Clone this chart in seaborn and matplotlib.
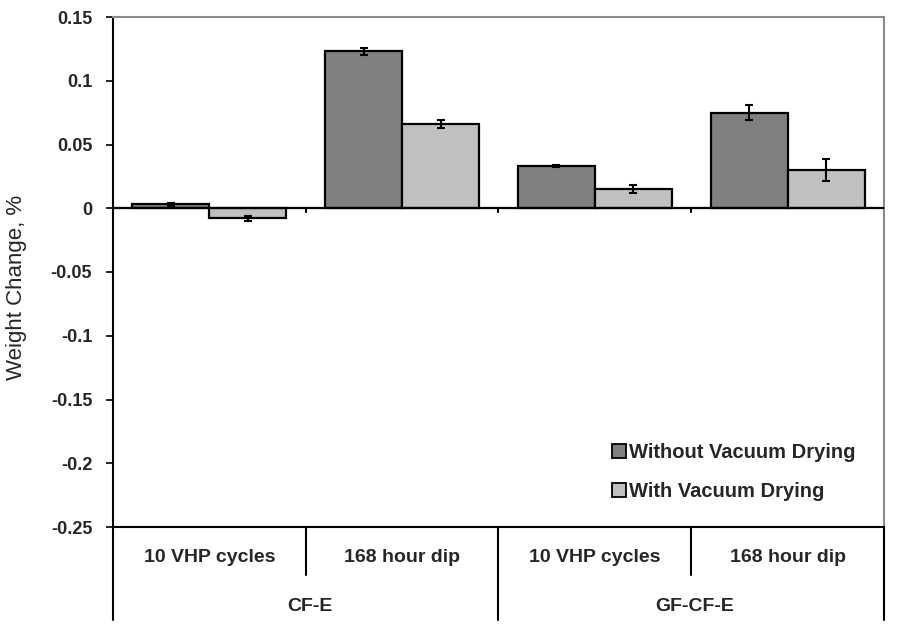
import matplotlib
matplotlib.use("Agg")
import matplotlib.pyplot as plt
import matplotlib.transforms as mtransforms
import seaborn as sns
import pandas as pd

groups = ["CF-E", "CF-E", "GF-CF-E", "GF-CF-E"]
conditions = ["10 VHP cycles", "168 hour dip", "10 VHP cycles", "168 hour dip"]
series_names = ["Without Vacuum Drying", "With Vacuum Drying"]
without_vals = [0.003, 0.123, 0.033, 0.075]
with_vals = [-0.008, 0.066, 0.015, 0.030]
without_err = [0.001, 0.003, 0.001, 0.006]
with_err = [0.002, 0.003, 0.003, 0.009]
yticks = [0.15, 0.1, 0.05, 0, -0.05, -0.1, -0.15, -0.2, -0.25]
ytick_labels = ["0.15", "0.1", "0.05", "0", "-0.05", "-0.1", "-0.15", "-0.2", "-0.25"]

cat_keys = [f"{g}|{c}" for g, c in zip(groups, conditions)]
df = pd.DataFrame({
    "cat": cat_keys * 2,
    "series": [series_names[0]] * 4 + [series_names[1]] * 4,
    "value": without_vals + with_vals,
})
errs = [without_err, with_err]

sns.set_theme(style="white")
plt.rcParams["font.family"] = ["Liberation Sans", "DejaVu Sans"]

fig = plt.figure(figsize=(9.03, 6.31), dpi=100)
ax = fig.add_axes([113 / 903, 1 - 527 / 631, (884 - 113) / 903, (527 - 17) / 631])

sns.barplot(data=df, x="cat", y="value", hue="series", order=cat_keys,
            hue_order=series_names, palette=["#808080", "#C0C0C0"],
            edgecolor="black", linewidth=1.6, width=0.8, errorbar=None,
            legend=True, ax=ax, zorder=3)

for cont, e in zip(ax.containers, errs):
    xs = [p.get_x() + p.get_width() / 2 for p in cont.patches]
    ys = [p.get_y() + p.get_height() for p in cont.patches]
    ax.errorbar(xs, ys, yerr=e, fmt="none", ecolor="black", elinewidth=1.5,
                capsize=3, capthick=1.5, zorder=6)

ax.set_xlim(-0.5, 3.5)
ax.set_ylim(-0.25, 0.15)
ax.set_yticks(yticks)
ax.set_yticklabels(ytick_labels, fontweight="bold", fontsize=13)
ax.set_xticks([])
ax.set_xlabel("")
ax.set_ylabel("Weight Change, %", fontsize=16)
ax.yaxis.set_label_coords((27 - 113) / 771, (527 - 287) / 510)
ax.tick_params(axis="y", direction="out", length=5, width=1.2, left=True,
               color="black", pad=10)

for s in ["top", "right"]:
    ax.spines[s].set_color("#8a8a8a")
    ax.spines[s].set_linewidth(1.5)
for s in ["left", "bottom"]:
    ax.spines[s].set_color("black")
    ax.spines[s].set_linewidth(1.5)

ax.axhline(0, color="black", linewidth=1.6, zorder=5)
for b in [0.5, 1.5, 2.5]:
    ax.plot([b, b], [0, -0.003], color="black", linewidth=1.5, zorder=5)

trans = mtransforms.blended_transform_factory(ax.transData, ax.transAxes)
for b in [-0.5, 1.5, 3.5]:
    ax.plot([b, b], [0, -0.182], color="black", linewidth=1.5, transform=trans, clip_on=False)
for b in [0.5, 2.5]:
    ax.plot([b, b], [0, -0.094], color="black", linewidth=1.5, transform=trans, clip_on=False)

for i, c in enumerate(conditions):
    ax.text(i, -0.059, c, transform=trans, ha="center", va="center",
            fontweight="bold", fontsize=14)
group_names = []
for g in groups:
    if g not in group_names:
        group_names.append(g)
for j, g in enumerate(group_names):
    ax.text(2 * j + 0.52, -0.155, g, transform=trans, ha="center", va="center",
            fontweight="bold", fontsize=14)

handles, labels = ax.get_legend_handles_labels()
leg = ax.legend(handles, labels, loc="center left", bbox_to_anchor=(0.637, 0.108),
                borderaxespad=0, frameon=False, handlelength=0.67, handleheight=0.67,
                handletextpad=0.15, labelspacing=1.0,
                prop={"weight": "bold", "size": 14.5})
for h in leg.legend_handles:
    h.set_linewidth(1.3)

fig.savefig("out.png", dpi=100)
